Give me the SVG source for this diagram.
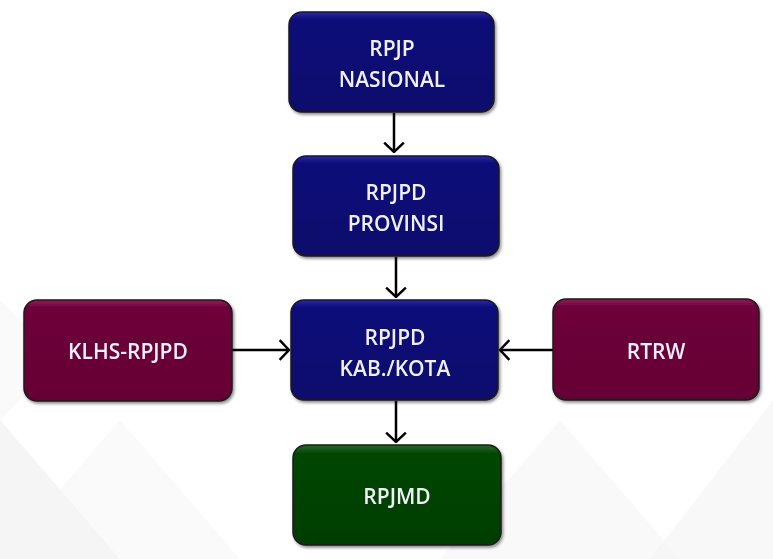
<svg xmlns="http://www.w3.org/2000/svg" width="773" height="559" viewBox="0 0 773 559">
<defs>
<style>
.t{font-family:"Open Sans","Liberation Sans",sans-serif;font-weight:600;font-size:21px;fill:#f0f0f8;text-anchor:middle}
.box{stroke:#1a1a1a;stroke-width:1.5}
.blue{fill:url(#gb)}
.red{fill:url(#gr)}
.green{fill:url(#gg)}
.c{stroke:#000;stroke-width:2.5;fill:none;marker-end:url(#ah)}
.bg{fill:#f5f5f5}
</style>
<linearGradient id="gb" x1="0" y1="0" x2="0" y2="1"><stop offset="0" stop-color="#2a2aa0"/><stop offset="0.08" stop-color="#0b0b7a"/><stop offset="1" stop-color="#07076c"/></linearGradient>
<linearGradient id="gr" x1="0" y1="0" x2="0" y2="1"><stop offset="0" stop-color="#8a2058"/><stop offset="0.08" stop-color="#6e003a"/><stop offset="1" stop-color="#650034"/></linearGradient>
<linearGradient id="gg" x1="0" y1="0" x2="0" y2="1"><stop offset="0" stop-color="#2a6a2a"/><stop offset="0.08" stop-color="#064606"/><stop offset="1" stop-color="#033d03"/></linearGradient>
<filter id="sh" x="-10%" y="-10%" width="125%" height="130%"><feDropShadow dx="1.5" dy="2" stdDeviation="1.5" flood-color="#000" flood-opacity="0.45"/></filter>
<marker id="ah" viewBox="0 0 12 24" refX="11" refY="12" markerWidth="4.5" markerHeight="9" orient="auto" markerUnits="strokeWidth"><path d="M1,1.5 L11,12 L1,22.5" fill="none" stroke="#000" stroke-width="2.6"/></marker>
</defs>
<rect width="773" height="559" fill="#ffffff"/>
<g id="background">
<polygon class="bg" points="0,420 120,559 0,559"/>
<polygon class="bg" points="120,420 240,559 0,559" opacity="0.5"/>
<polygon class="bg" points="560,420 680,559 440,559" opacity="0.6"/>
<polygon class="bg" points="773,400 773,559 650,559" opacity="0.7"/>
<polygon class="bg" points="0,300 0,420 60,360" opacity="0.5"/>
</g>
<g id="connectors">
<line class="c" x1="394" y1="113" x2="394" y2="152"/>
<line class="c" x1="396" y1="257" x2="396" y2="297"/>
<line class="c" x1="396" y1="401" x2="396" y2="442"/>
<line class="c" x1="232" y1="350" x2="289" y2="350"/>
<line class="c" x1="553" y1="350" x2="500" y2="350"/>
</g>
<g id="rpjp" filter="url(#sh)">
<rect class="box blue" x="289" y="12" width="205" height="100" rx="13"/>
<text class="t" x="392" y="56">RPJP</text>
<text class="t" x="392" y="87">NASIONAL</text>
</g>
<g id="rpjpd-prov" filter="url(#sh)">
<rect class="box blue" x="293" y="156" width="206" height="100" rx="13"/>
<text class="t" x="396" y="200">RPJPD</text>
<text class="t" x="396" y="231">PROVINSI</text>
</g>
<g id="rpjpd-kab" filter="url(#sh)">
<rect class="box blue" x="291" y="300" width="207" height="100" rx="13"/>
<text class="t" x="395" y="345">RPJPD</text>
<text class="t" x="395" y="376">KAB./KOTA</text>
</g>
<g id="klhs" filter="url(#sh)">
<rect class="box red" x="24" y="300" width="208" height="101" rx="13"/>
<text class="t" x="128" y="359">KLHS-RPJPD</text>
</g>
<g id="rtrw" filter="url(#sh)">
<rect class="box red" x="553" y="299" width="206" height="101" rx="13"/>
<text class="t" x="656" y="359">RTRW</text>
</g>
<g id="rpjmd" filter="url(#sh)">
<rect class="box green" x="293" y="445" width="208" height="100" rx="13"/>
<text class="t" x="397" y="504">RPJMD</text>
</g>
</svg>
